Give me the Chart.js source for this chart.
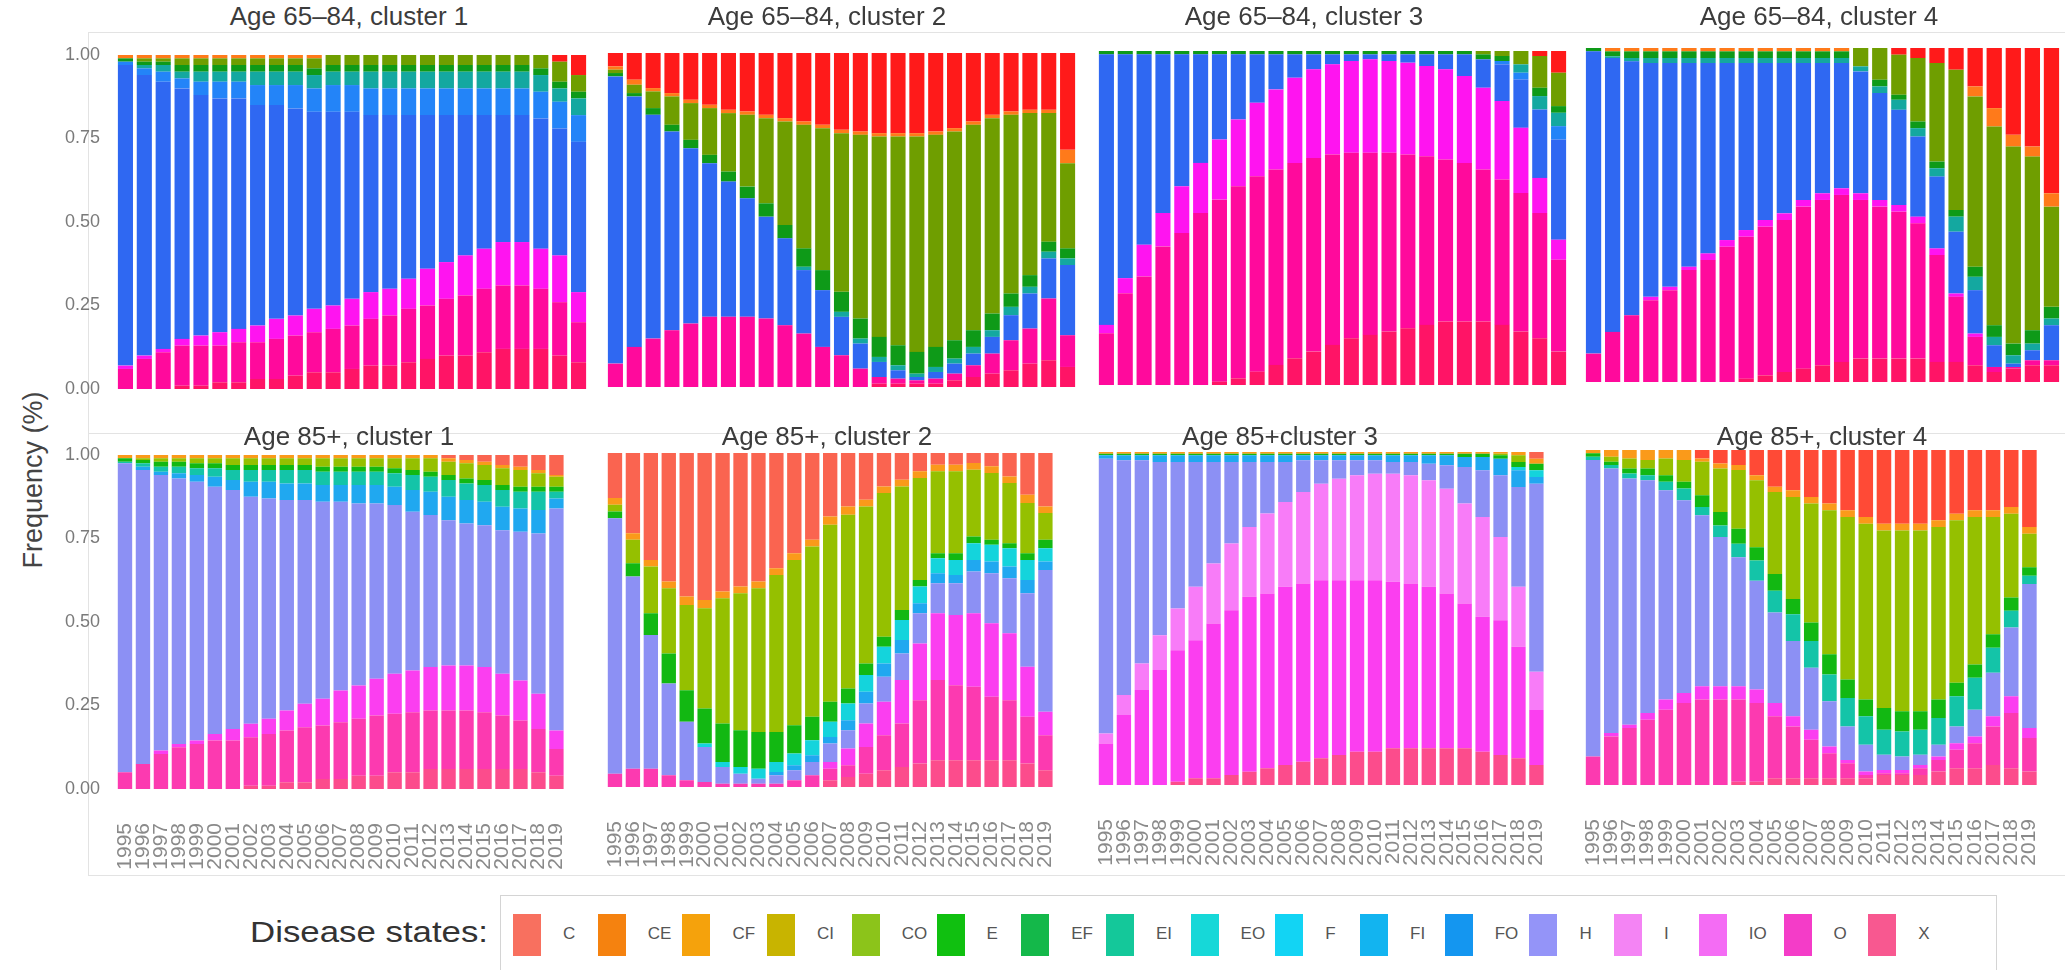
<!DOCTYPE html>
<html>
<head>
<meta charset="utf-8">
<script src="https://cdn.jsdelivr.net/npm/chart.js@4.4.0/dist/chart.umd.min.js"></script>
<style>
    body { margin: 0; background: #fff; width: 2065px; height: 970px; position: relative; overflow: hidden;
           font-family: 'Liberation Sans', Arial, sans-serif; }
    canvas { position: absolute; }
    .title { position: absolute; font-size: 26px; line-height: 28px; color: #3c3c3c; white-space: nowrap; transform: translateX(-50%); }
    .rule { position: absolute; background: #e3e3e3; }
    #ytitle { position: absolute; left: 33px; top: 480px; font-size: 27px; color: #444; white-space: nowrap;
              transform: translate(-50%, -50%) rotate(-90deg); }
    #legendLabel { position: absolute; left: 190px; top: 916px; width: 298px; text-align: right; font-size: 29px; color: #333;
                   transform: scaleX(1.2); transform-origin: right center; }
    #legendBox { position: absolute; left: 500px; top: 895px; width: 1495px; height: 90px; border: 1px solid #d4d4d4; }
    .key { position: absolute; top: 18px; width: 28px; height: 42px; }
    .keyText { position: absolute; top: 28px; font-size: 17px; color: #555; font-family: 'Liberation Sans Narrow', 'Liberation Sans', sans-serif; }
</style>
</head>
<body>
<div class="rule" style="left:88px;top:32px;width:1977px;height:1px"></div>
<div class="rule" style="left:88px;top:433px;width:1977px;height:1px"></div>
<div class="rule" style="left:88px;top:32px;width:1px;height:843px"></div>
<div class="rule" style="left:88px;top:875px;width:1977px;height:1px"></div>
<div id="ytitle">Frequency (%)</div>
<div id="legendLabel">Disease states:</div>
<div id="legendBox"></div>

<script>
// Categories
const years = ['1995', '1996', '1997', '1998', '1999', '2000', '2001', '2002', '2003', '2004', '2005', '2006', '2007',
    '2008', '2009', '2010', '2011', '2012', '2013', '2014', '2015', '2016', '2017', '2018', '2019'];
const states = ['C', 'CE', 'CF', 'CI', 'CO', 'E', 'EF', 'EI', 'EO', 'F', 'FI', 'FO', 'H', 'I', 'IO', 'O', 'X'];
const yTicks = [0, 0.25, 0.5, 0.75, 1];

// Age 65–84, cluster 1
const a1C  = [0, 0, 0, 0, 0, 0, 0, 0, 0, 0, 0, 0, 0, 0, 0, 0, 0, 0, 0, 0, 0, 0, 0, .02, .06];
const a1CE = [.01, .01, .01, .01, .01, .01, .01, .01, .01, .01, .01, 0, 0, 0, 0, 0, 0, 0, 0, 0, 0, 0, 0, 0, 0];
const a1CO = [0, .01, .01, .02, .02, .02, .02, .02, .02, .02, .03, .03, .03, .03, .03, .03, .03, .03, .03, .03, .03, .03, .04, .06, .05];
const a1E  = [.01, .01, .01, .02, .02, .02, .02, .02, .02, .02, .02, .02, .02, .02, .02, .02, .02, .02, .02, .02, .02, .02, .02, .02, .02];
const a1EI = [0, .01, .02, .02, .03, .03, .03, .04, .04, .04, .04, .04, .04, .05, .05, .05, .05, .05, .05, .05, .05, .05, .05, .04, .05];
const a1FO = [.01, .02, .03, .03, .04, .05, .05, .06, .06, .07, .07, .08, .08, .08, .08, .08, .08, .08, .08, .08, .08, .08, .08, .08, .08];
const a1H  = [.90, .84, .80, .75, .72, .70, .69, .66, .64, .62, .59, .58, .56, .53, .52, .49, .46, .44, .42, .40, .38, .38, .39, .38, .45];
const a1IO = [.01, .01, .01, .02, .03, .04, .04, .05, .06, .06, .07, .07, .08, .08, .08, .09, .11, .11, .12, .12, .13, .13, .12, .14, .09];
const a1O  = [.06, .09, .11, .12, .12, .11, .12, .11, .12, .12, .12, .13, .13, .14, .15, .16, .16, .17, .18, .19, .19, .19, .18, .16, .12];
const a1X  = [0, 0, 0, .01, .01, .02, .02, .03, .03, .04, .05, .05, .06, .07, .07, .08, .09, .10, .10, .11, .12, .12, .12, .10, .08];

// Age 65–84, cluster 2
const a2C  = [.045, .08, .105, .12, .14, .155, .17, .175, .185, .195, .205, .215, .23, .235, .24, .24, .24, .235, .225, .205, .185, .175, .17, .17, .29];
const a2CE = [.01, .015, .01, .01, .01, .01, .01, .01, .01, .01, .01, .01, .01, .01, .01, .01, .01, .01, .01, .01, .01, .01, .01, .01, .04];
const a2CO = [.01, .025, .05, .085, .11, .14, .175, .215, .255, .31, .37, .425, .475, .55, .60, .625, .645, .635, .625, .615, .585, .535, .485, .385, .255];
const a2E  = [.01, .01, .02, .02, .025, .025, .03, .035, .04, .04, .055, .06, .06, .06, .06, .06, .065, .06, .055, .05, .05, .04, .035, .03, .03];
const a2EI = [0, 0, 0, 0, 0, 0, 0, 0, 0, 0, .01, 0, .015, .015, .015, .015, .01, .015, .015, .02, .02, .025, .02, .02, .02];
const a2H  = [.86, .75, .67, .595, .525, .46, .405, .355, .305, .26, .19, .17, .115, .075, .045, .025, .01, .02, .03, .035, .05, .075, .105, .12, .21];
const a2O  = [.07, .12, .145, .17, .19, .21, .21, .21, .205, .185, .16, .12, .095, .055, .02, .015, .01, .015, .02, .035, .06, .09, .105, .185, .095];
const a2X  = [0, 0, 0, 0, 0, 0, 0, 0, 0, 0, 0, 0, 0, 0, .01, .01, .01, .01, .02, .03, .04, .05, .07, .08, .06];

// Age 65–84, cluster 3
const a3C  = [0, 0, 0, 0, 0, 0, 0, 0, 0, 0, 0, 0, 0, 0, 0, 0, 0, 0, 0, 0, 0, 0, 0, .015, .065];
const a3CO = [0, 0, 0, 0, 0, 0, 0, 0, 0, 0, 0, 0, 0, 0, 0, 0, 0, 0, 0, 0, .01, .015, .04, .095, .10];
const a3E  = [.01, .01, .01, .01, .01, .01, .01, .01, .01, .01, .01, .01, .01, .01, .01, .01, .01, .01, .01, .01, .015, .015, 0, .025, .02];
const a3EI = [0, 0, 0, 0, 0, 0, 0, 0, 0, 0, 0, 0, 0, 0, 0, 0, 0, 0, 0, 0, 0, 0, .025, .04, .04];
const a3FO = [0, 0, 0, 0, 0, 0, 0, 0, 0, 0, 0, 0, 0, 0, 0, 0, 0, 0, 0, 0, 0, .01, .02, 0, .04];
const a3H  = [.81, .67, .57, .475, .395, .325, .255, .195, .145, .105, .07, .045, .03, .02, .015, .02, .025, .035, .045, .065, .085, .11, .145, .205, .30];
const a3IO = [.025, .045, .095, .10, .14, .15, .18, .20, .22, .24, .255, .265, .27, .275, .28, .275, .275, .27, .27, .26, .245, .235, .195, .105, .06];
const a3O  = [.155, .275, .325, .415, .455, .515, .545, .575, .585, .585, .585, .58, .57, .555, .545, .535, .52, .505, .485, .475, .455, .435, .415, .375, .275];
const a3X  = [0, 0, 0, 0, 0, 0, .01, .02, .04, .06, .08, .10, .12, .14, .15, .16, .17, .18, .19, .19, .19, .18, .16, .14, .10];

// Age 65–84, cluster 4
const a4C  = [0, 0, 0, 0, 0, 0, 0, 0, 0, 0, 0, 0, 0, 0, 0, 0, .02, .03, .045, .065, .115, .18, .26, .295, .435];
const a4CE = [0, .01, .01, .01, .01, .01, .01, .01, .01, .01, .01, .01, .01, .01, 0, 0, 0, 0, 0, 0, .03, .055, .035, .03, .04];
const a4CO = [0, 0, 0, 0, 0, 0, 0, 0, 0, 0, 0, 0, 0, 0, .055, .095, .12, .19, .295, .42, .51, .595, .59, .52, .30];
const a4E  = [.01, .015, .02, .02, .02, .02, .02, .02, .02, .02, .02, .02, .02, .02, 0, .02, .015, .02, .02, .02, .03, .035, .035, .04, .035];
const a4EI = [0, .005, .01, .015, .015, .015, .015, .015, .015, .015, .015, .015, .015, .015, .015, .02, .03, .025, .025, .045, .04, .025, .025, .02, .02];
const a4H  = [.905, .82, .76, .70, .67, .61, .57, .53, .50, .47, .45, .41, .39, .375, .365, .32, .285, .24, .215, .185, .13, .065, .01, .03, .105];
const a4IO = [0, 0, 0, .01, .01, .01, .02, .02, .02, .02, .02, .02, .02, .02, .02, .02, .02, .02, .02, .01, .01, 0, 0, 0, 0];
const a4O  = [.085, .15, .20, .245, .275, .335, .365, .405, .425, .445, .455, .485, .495, .50, .475, .455, .44, .405, .32, .195, .085, .015, .005, .015, .015];
const a4X  = [0, 0, 0, 0, 0, 0, 0, 0, .01, .02, .03, .04, .05, .06, .07, .07, .07, .07, .06, .06, .05, .03, .04, .05, .05];

// Age 85+, cluster 1
const b1C  = [0, 0, 0, 0, 0, 0, 0, 0, 0, 0, 0, 0, 0, 0, 0, 0, 0, 0, .01, .015, .02, .03, .035, .045, .06];
const b1CE = [.01, .01, .01, .01, .01, .01, .01, .01, .01, .01, .01, .01, .01, .01, .01, .01, .01, .01, .01, .01, .01, .01, .01, .01, .005];
const b1CO = [0, .005, .01, .01, .015, .015, .02, .02, .02, .02, .02, .025, .025, .025, .025, .03, .035, .04, .04, .045, .045, .05, .05, .04, .03];
const b1E  = [.01, .01, .015, .015, .015, .015, .015, .015, .015, .015, .015, .015, .015, .015, .015, .015, .015, .015, .015, .015, .015, .015, .015, .015, .015];
const b1EI = [.005, .01, .015, .02, .02, .025, .03, .035, .035, .04, .04, .04, .04, .04, .04, .04, .045, .045, .05, .05, .05, .05, .05, .055, .02];
const b1FI = [0, .01, .01, .015, .02, .03, .03, .045, .05, .05, .05, .05, .05, .055, .055, .055, .065, .07, .07, .07, .07, .07, .07, .07, .03];
const b1H  = [.925, .88, .825, .795, .775, .74, .715, .68, .66, .63, .61, .59, .565, .545, .525, .505, .475, .455, .435, .425, .425, .43, .445, .48, .665];
const b1IO = [0, 0, .01, .01, .01, .02, .035, .04, .045, .06, .07, .08, .095, .10, .11, .12, .125, .13, .135, .135, .135, .125, .12, .105, .055];
const b1O  = [.05, .075, .105, .125, .135, .145, .145, .145, .155, .155, .165, .16, .17, .17, .18, .175, .18, .175, .175, .175, .17, .16, .145, .13, .08];
const b1X  = [0, 0, 0, 0, 0, 0, 0, .01, .01, .02, .02, .03, .03, .04, .04, .05, .05, .06, .06, .06, .06, .06, .06, .05, .04];

// Age 85+, cluster 2
const b2C  = [.135, .24, .32, .385, .43, .44, .415, .40, .385, .345, .30, .26, .19, .16, .14, .10, .08, .055, .035, .035, .03, .04, .07, .125, .16];
const b2CE = [.02, .02, .02, .02, .025, .025, .02, .02, .02, .02, .02, .02, .025, .025, .02, .02, .02, .02, .02, .02, .02, .02, .02, .025, .02];
const b2CO = [.02, .07, .14, .195, .255, .30, .375, .41, .43, .47, .495, .51, .53, .52, .47, .43, .37, .305, .245, .245, .20, .20, .18, .15, .08];
const b2E  = [.02, .04, .065, .09, .095, .105, .115, .11, .11, .09, .085, .07, .06, .045, .035, .03, .03, .02, .015, .02, .02, .015, .015, .02, .025];
const b2EO = [0, 0, 0, 0, 0, .01, .015, .02, .03, .03, .035, .045, .045, .05, .05, .05, .06, .05, .045, .045, .05, .05, .055, .06, .04];
const b2FI = [0, 0, 0, 0, 0, 0, 0, 0, 0, .01, .015, .02, .02, .03, .035, .04, .04, .03, .03, .025, .035, .035, .035, .04, .025];
const b2H  = [.765, .575, .40, .275, .175, .105, .05, .03, .015, .025, .03, .04, .055, .055, .06, .075, .08, .09, .09, .095, .125, .15, .165, .22, .425];
const b2IO = [0, 0, 0, 0, 0, 0, 0, 0, 0, 0, 0, 0, .02, .05, .07, .10, .13, .17, .20, .21, .22, .22, .20, .15, .07];
const b2O  = [.04, .055, .055, .035, .02, .015, .01, .01, .01, .01, .02, .035, .035, .035, .08, .105, .13, .19, .24, .225, .22, .19, .18, .14, .105];
const b2X  = [0, 0, 0, 0, 0, 0, 0, 0, 0, 0, 0, 0, .02, .03, .04, .05, .06, .07, .08, .08, .08, .08, .08, .07, .05];

// Age 85+ cluster 3
const b3C  = [0, 0, 0, 0, 0, 0, 0, 0, 0, 0, 0, 0, 0, 0, 0, 0, 0, 0, 0, 0, 0, 0, 0, 0, .02];
const b3CE = [.005, .005, .005, .005, .005, .005, .005, .005, .005, .005, .005, .005, .005, .005, .005, .005, .005, .005, .005, .005, .005, .005, .005, .01, .015];
const b3CO = [0, 0, 0, 0, 0, 0, 0, 0, 0, 0, 0, 0, 0, 0, 0, 0, 0, 0, 0, 0, 0, 0, .005, .02, 0];
const b3E  = [.005, .005, .005, .005, .005, .005, .005, .005, .005, .005, .005, .005, .005, .005, .005, .005, .005, .005, .005, .005, .01, .01, .01, .015, .02];
const b3EO = [0, 0, 0, 0, 0, 0, 0, 0, 0, 0, 0, 0, 0, 0, 0, 0, 0, 0, 0, 0, 0, 0, 0, .01, .02];
const b3FI = [.01, .015, .015, .02, .02, .02, .02, .02, .02, .02, .02, .015, .015, .015, .015, .015, .02, .02, .025, .03, .03, .04, .05, .05, .02];
const b3H  = [.825, .705, .61, .52, .44, .375, .305, .245, .195, .155, .12, .095, .07, .055, .045, .04, .035, .04, .05, .07, .11, .14, .185, .30, .565];
const b3I  = [.03, .06, .08, .105, .125, .16, .18, .20, .21, .24, .255, .275, .29, .305, .315, .32, .325, .325, .32, .315, .30, .30, .25, .18, .115];
const b3IO = [.125, .21, .285, .345, .395, .415, .465, .495, .525, .525, .535, .535, .535, .525, .515, .515, .50, .495, .485, .465, .435, .405, .405, .335, .165];
const b3X  = [0, 0, 0, 0, .01, .02, .02, .03, .04, .05, .06, .07, .08, .09, .10, .10, .11, .11, .11, .11, .11, .10, .09, .08, .06];

// Age 85+, cluster 4
const b4C  = [0, 0, 0, 0, 0, 0, .025, .04, .045, .075, .11, .12, .14, .16, .18, .20, .22, .22, .22, .21, .19, .18, .18, .17, .23];
const b4CE = [.01, .02, .025, .03, .025, .03, .01, .015, .015, .015, .015, .02, .02, .02, .02, .02, .02, .02, .02, .02, .02, .02, .02, .02, .02];
const b4CO = [0, .015, .03, .025, .05, .065, .10, .13, .175, .20, .245, .305, .355, .43, .485, .525, .53, .54, .54, .515, .485, .44, .35, .25, .10];
const b4E  = [.01, .01, .015, .02, .02, .02, .035, .04, .045, .04, .05, .045, .055, .06, .055, .05, .065, .06, .055, .055, .04, .04, .04, .04, .025];
const b4EI = [.01, .01, .015, .015, .025, .035, .025, .035, .04, .06, .065, .08, .08, .08, .085, .085, .075, .075, .075, .08, .09, .095, .075, .05, .025];
const b4H  = [.885, .79, .735, .695, .625, .575, .51, .445, .385, .325, .27, .225, .185, .135, .10, .08, .045, .04, .03, .035, .05, .08, .13, .205, .43];
const b4IO = [0, .01, .01, .02, .03, .03, .04, .04, .04, .04, .04, .03, .03, .02, .01, .01, .01, .01, .01, .01, .02, .02, .03, .05, .03];
const b4O  = [.085, .145, .17, .195, .225, .245, .255, .255, .245, .235, .185, .155, .115, .075, .045, .01, .005, .005, .02, .035, .055, .075, .115, .165, .10];
const b4X  = [0, 0, 0, 0, 0, 0, 0, 0, .01, .01, .02, .02, .02, .02, .02, .02, .03, .03, .03, .04, .05, .05, .06, .05, .04];

const panels = [
    { title: 'Age 65–84, cluster 1', values: { C: a1C, CE: a1CE, CO: a1CO, E: a1E, EI: a1EI, FO: a1FO, H: a1H, IO: a1IO, O: a1O, X: a1X } },
    { title: 'Age 65–84, cluster 2', values: { C: a2C, CE: a2CE, CO: a2CO, E: a2E, EI: a2EI, H: a2H, O: a2O, X: a2X } },
    { title: 'Age 65–84, cluster 3', values: { C: a3C, CO: a3CO, E: a3E, EI: a3EI, FO: a3FO, H: a3H, IO: a3IO, O: a3O, X: a3X } },
    { title: 'Age 65–84, cluster 4', values: { C: a4C, CE: a4CE, CO: a4CO, E: a4E, EI: a4EI, H: a4H, IO: a4IO, O: a4O, X: a4X } },
    { title: 'Age 85+, cluster 1', values: { C: b1C, CE: b1CE, CO: b1CO, E: b1E, EI: b1EI, FI: b1FI, H: b1H, IO: b1IO, O: b1O, X: b1X } },
    { title: 'Age 85+, cluster 2', values: { C: b2C, CE: b2CE, CO: b2CO, E: b2E, EO: b2EO, FI: b2FI, H: b2H, IO: b2IO, O: b2O, X: b2X } },
    { title: 'Age 85+cluster 3', values: { C: b3C, CE: b3CE, CO: b3CO, E: b3E, EO: b3EO, FI: b3FI, H: b3H, I: b3I, IO: b3IO, X: b3X } },
    { title: 'Age 85+, cluster 4', values: { C: b4C, CE: b4CE, CO: b4CO, E: b4E, EI: b4EI, H: b4H, IO: b4IO, O: b4O, X: b4X } }
];

// Colours: the upper row of the source picture is more saturated than the lower one
const topColors = {
    C: '#ff1a1a', CE: '#ff7a1a', CF: '#f0a000', CI: '#b0a000', CO: '#6f9e00', E: '#0e9a18', EF: '#0aa050',
    EI: '#14a8a0', EO: '#18c0d0', F: '#18b8f0', FI: '#1a90f8', FO: '#2384f8', H: '#2f68f2',
    I: '#ff60ff', IO: '#ff14f0', O: '#ff0a9c', X: '#ff1466'
};
const bottomColors = {
    C: '#fa6450', CE: '#fa9a1a', CF: '#f5a80a', CI: '#c8b400', CO: '#95c000', E: '#12b812', EF: '#12b050',
    EI: '#14c4a8', EO: '#14d4dc', F: '#14c8f0', FI: '#20a8f0', FO: '#2090f0', H: '#8c90f4',
    I: '#f87cf8', IO: '#fb3ef0', O: '#fc3ab0', X: '#fc4c8c'
};
const legendColors = {
    C: '#f8705f', CE: '#f5820f', CF: '#f5a20c', CI: '#c8b400', CO: '#8cc41a', E: '#10c010', EF: '#14b84a',
    EI: '#14c89a', EO: '#16d8d8', F: '#12d4f4', FI: '#12b4f0', FO: '#1496f0', H: '#9494f8',
    I: '#f484f4', IO: '#f46cf4', O: '#f43cc8', X: '#f85890'
};
// the last lower panel shows a stronger red for C
const panelColorOverrides = { 7: { C: '#ff4a36' } };

// Layout (page pixels) of each panel's plotting area
const plotLeft = [116, 606, 1097, 1584];
const plotRight = [588, 1077, 1568, 2061];
const plotTop = [55, 53, 51, 48, 455, 453, 452, 450];
const plotBottom = [389, 387, 385, 382, 789, 787, 785, 785];
const titleX = [349, 827, 1304, 1819, 349, 827, 1280, 1822];
const titleY = [16, 436];

const PAD = 20;      // layout padding round every chart area
const YAXIS_W = 52;  // width of the y axis in the left column
const XAXIS_H = 85;  // height of the year axis in the lower row

const none = years.map(() => 0);
const stackOrder = states.slice().reverse(); // ggplot puts the first level on top

function makePanel(panel, i) {
    const row = i < 4 ? 0 : 1;
    const col = i % 4;
    const leftCol = col === 0;
    const palette = Object.assign({}, row === 0 ? topColors : bottomColors, panelColorOverrides[i] || {});

    const yw = leftCol ? YAXIS_W : 0;
    const xh = row === 1 ? XAXIS_H : PAD;
    const canvas = document.createElement('canvas');
    canvas.width = plotRight[col] - plotLeft[col] + 2 * PAD + yw;
    canvas.height = plotBottom[i] - plotTop[i] + PAD + xh;
    canvas.style.left = (plotLeft[col] - PAD - yw) + 'px';
    canvas.style.top = (plotTop[i] - PAD) + 'px';
    document.body.appendChild(canvas);

    const title = document.createElement('div');
    title.className = 'title';
    title.textContent = panel.title;
    title.style.left = titleX[i] + 'px';
    title.style.top = (titleY[row] - 14) + 'px';
    document.body.appendChild(title);

    new Chart(canvas.getContext('2d'), {
        type: 'bar',
        data: {
            labels: years,
            datasets: stackOrder.map(s => ({
                label: s,
                data: panel.values[s] || none,
                backgroundColor: palette[s],
                borderWidth: 0,
                barPercentage: 0.8,
                categoryPercentage: 1.0
            }))
        },
        options: {
            responsive: false,
            animation: false,
            devicePixelRatio: 1,
            layout: { padding: { top: PAD, left: PAD, right: PAD, bottom: row === 1 ? 0 : PAD } },
            plugins: { legend: { display: false }, tooltip: { enabled: false } },
            scales: {
                x: {
                    stacked: true,
                    display: row === 1,
                    grid: { display: false },
                    border: { display: false },
                    ticks: {
                        autoSkip: false, minRotation: 90, maxRotation: 90, padding: 26,
                        color: '#8a8a8a', font: { family: 'Liberation Sans', size: 21 }
                    },
                    // only the lower row shows the years
                    afterFit: (scale) => { if (row === 1) scale.height = XAXIS_H; }
                },
                y: {
                    stacked: true,
                    display: leftCol,
                    min: 0,
                    max: 1,
                    grid: { display: false },
                    border: { display: false },
                    afterBuildTicks: (scale) => { scale.ticks = yTicks.map(v => ({ value: v })); },
                    ticks: {
                        padding: 8,
                        color: '#7a7a7a',
                        font: { family: 'Liberation Sans', size: 18 },
                        callback: (v) => Number(v).toFixed(2)
                    },
                    afterFit: (scale) => { if (leftCol) scale.width = YAXIS_W; }
                }
            }
        }
    });
}

panels.forEach(makePanel);

// Legend
const legendBox = document.getElementById('legendBox');
states.forEach((s, k) => {
    const key = document.createElement('div');
    key.className = 'key';
    key.style.left = (12 + k * 84.7) + 'px';
    key.style.background = legendColors[s];
    legendBox.appendChild(key);
    const txt = document.createElement('div');
    txt.className = 'keyText';
    txt.style.left = (12 + k * 84.7 + 50) + 'px';
    txt.textContent = s;
    legendBox.appendChild(txt);
});
</script>
</body>
</html>
